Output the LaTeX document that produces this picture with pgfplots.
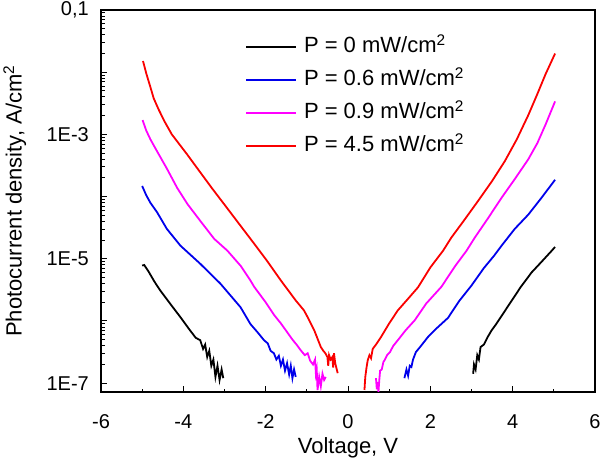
\documentclass[border=0pt]{standalone}
\usepackage{fontspec}
\setmainfont{Liberation Sans}
\usepackage{pgfplots}
\pgfplotsset{compat=1.18}
\definecolor{mag}{RGB}{255,0,255}
\definecolor{blu}{RGB}{0,0,235}
\definecolor{rd}{RGB}{250,0,0}
\begin{document}
\begin{tikzpicture}
\useasboundingbox (0,0) rectangle (600bp,460bp);
\begin{axis}[
  at={(101bp,68bp)}, anchor=south west,
  width=494bp, height=382bp, scale only axis,
  xmin=-6, xmax=6, ymode=log, ymin=7.2e-8, ymax=0.1,
  xtick={-6,-4,-2,0,2,4,6}, xticklabels={-6,-4,-2,0,2,4,6},
  minor xtick={-5,-3,-1,1,3,5},
  ytick={1e-7,1e-6,1e-5,1e-4,1e-3,1e-2,1e-1},
  yticklabels={1E-7,,1E-5,,1E-3,,{0,1}},
  xtick pos=bottom, ytick pos=left,
  tick align=inside,
  major tick length=6bp, minor tick length=3.5bp,
  axis line style={line width=1.1bp},
  every tick/.style={black, line width=0.9bp},
  tick label style={font=\fontsize{20bp}{24bp}\selectfont},
  xticklabel style={anchor=base, yshift=-36bp, inner sep=0pt},
  yticklabel style={anchor=east, inner sep=0pt, xshift=-12bp},
  xlabel={Voltage, V},
  ylabel={Photocurrent density, A/cm\textsuperscript{2}},
  label style={font=\fontsize{22bp}{26bp}\selectfont},
  xlabel style={at={(axis description cs:0.5,-0.162)}, anchor=base, inner sep=0pt},
  ylabel style={at={(axis description cs:-0.1605,0.5)}, anchor=base, inner sep=0pt},
  unbounded coords=jump,
  legend style={at={(axis description cs:0.2915,0.933)}, anchor=north west, draw=none, fill=none, inner sep=0pt,
    row sep=10bp, column sep=7bp, font=\fontsize{22bp}{26bp}\selectfont,
    nodes={inner ysep=0pt, inner xsep=0pt, text height=17bp, text depth=6bp}},
  legend cell align=left,
  legend image code/.code={\draw[#1, line width=1.8bp] (0bp,0bp) -- (50bp,0bp);},
]
\addplot[black, line width=1.8bp] coordinates {
(-5.00,7.762e-6) (-4.95,7.943e-6) (-4.85,6.310e-6) (-4.70,4.266e-6) (-4.56,3.090e-6)
(-4.30,1.820e-6) (-4.07,1.148e-6) (-3.85,7.244e-7) (-3.70,5.370e-7) (-3.59,4.898e-7)
(-3.52,3.548e-7) (-3.47,4.169e-7) (-3.42,2.630e-7) (-3.37,3.311e-7) (-3.32,1.905e-7)
(-3.27,2.399e-7) (-3.22,1.259e-7) (-3.17,1.905e-7) (-3.12,1.122e-7) (-3.07,1.660e-7)
(-3.03,1.202e-7)
(0,nan)
(3.04,1.413e-7) (3.06,1.995e-7) (3.10,1.660e-7) (3.14,2.818e-7) (3.18,2.399e-7)
(3.22,3.802e-7) (3.30,4.169e-7) (3.40,5.623e-7) (3.49,7.079e-7) (3.60,8.913e-7)
(3.75,1.259e-6) (3.98,2.138e-6) (4.20,3.548e-6) (4.46,6.026e-6) (4.70,8.913e-6)
(4.95,1.349e-5) (5.03,1.549e-5)
};
\addlegendentry{P = 0 mW/cm\textsuperscript{2}}
\addplot[blu, line width=1.8bp] coordinates {
(-5.00,1.479e-4) (-4.90,1.047e-4) (-4.80,7.943e-5) (-4.64,5.623e-5) (-4.40,3.020e-5)
(-4.07,1.622e-5) (-3.59,8.318e-6) (-3.10,3.981e-6) (-2.61,1.660e-6) (-2.37,8.913e-7)
(-2.20,6.607e-7) (-2.04,4.898e-7) (-1.95,4.365e-7) (-1.88,3.311e-7) (-1.80,3.020e-7)
(-1.74,2.399e-7) (-1.68,2.754e-7) (-1.63,1.905e-7) (-1.58,2.399e-7) (-1.53,1.585e-7)
(-1.48,2.089e-7) (-1.43,1.380e-7) (-1.39,1.905e-7) (-1.35,1.202e-7) (-1.31,1.660e-7)
(-1.27,1.259e-7)
(0,nan)
(1.37,1.202e-7) (1.42,1.660e-7) (1.46,1.318e-7) (1.50,1.905e-7) (1.54,1.820e-7)
(1.58,2.399e-7) (1.65,3.162e-7) (1.75,3.802e-7) (1.94,5.495e-7) (2.15,7.586e-7)
(2.43,1.122e-6) (2.70,2.089e-6) (3.00,3.715e-6) (3.30,7.079e-6) (3.55,1.122e-5)
(3.73,1.622e-5) (4.05,3.020e-5) (4.38,5.129e-5) (4.70,9.550e-5) (5.03,1.862e-4)
};
\addlegendentry{P = 0.6 mW/cm\textsuperscript{2}}
\addplot[mag, line width=1.8bp] coordinates {
(-4.99,1.698e-3) (-4.90,1.148e-3) (-4.80,8.318e-4) (-4.64,5.370e-4) (-4.40,2.818e-4)
(-4.15,1.380e-4) (-3.90,7.586e-5) (-3.59,4.074e-5) (-3.25,2.089e-5) (-2.93,1.349e-5)
(-2.60,7.586e-6) (-2.37,4.467e-6) (-2.28,3.548e-6) (-2.00,1.995e-6) (-1.80,1.259e-6)
(-1.63,9.120e-7) (-1.50,6.918e-7) (-1.35,5.012e-7) (-1.25,4.169e-7) (-1.15,3.388e-7)
(-1.05,2.818e-7) (-0.98,3.020e-7) (-0.92,2.291e-7) (-0.85,1.995e-7) (-0.80,2.399e-7)
(-0.78,1.413e-7) (-0.76,1.660e-7) (-0.74,7.762e-8) (-0.70,1.259e-7) (-0.66,8.913e-8)
(-0.62,1.413e-7) (-0.58,1.122e-7) (-0.54,1.259e-7)
(0,nan)
(0.68,1.202e-7) (0.70,7.943e-8) (0.72,1.047e-7) (0.74,7.244e-8) (0.76,1.122e-7)
(0.78,1.585e-7) (0.82,1.660e-7) (0.86,2.188e-7) (0.89,2.344e-7) (0.95,2.818e-7)
(1.02,3.162e-7) (1.10,3.981e-7) (1.21,4.898e-7) (1.40,7.079e-7) (1.62,1.023e-6)
(1.90,1.905e-6) (2.27,3.548e-6) (2.60,7.586e-6) (2.88,1.349e-5) (3.08,2.188e-5)
(3.40,4.467e-5) (3.73,9.550e-5) (4.05,1.905e-4) (4.38,3.981e-4) (4.60,7.244e-4)
(4.80,1.445e-3) (5.03,3.388e-3)
};
\addlegendentry{P = 0.9 mW/cm\textsuperscript{2}}
\addplot[rd, line width=1.8bp] coordinates {
(-4.98,1.514e-2) (-4.90,9.550e-3) (-4.80,5.754e-3) (-4.72,3.802e-3) (-4.60,2.512e-3)
(-4.45,1.585e-3) (-4.28,1.000e-3) (-3.91,4.786e-4) (-3.60,2.512e-4) (-3.30,1.349e-4)
(-3.00,7.413e-5) (-2.61,3.388e-5) (-2.30,1.820e-5) (-1.96,9.120e-6) (-1.63,4.467e-6)
(-1.27,2.138e-6) (-1.07,1.479e-6) (-0.98,1.148e-6) (-0.82,7.079e-7) (-0.66,3.802e-7)
(-0.60,3.311e-7) (-0.55,3.020e-7) (-0.50,2.630e-7) (-0.48,1.905e-7) (-0.46,2.818e-7)
(-0.42,2.399e-7) (-0.38,2.630e-7) (-0.36,1.778e-7) (-0.34,3.020e-7) (-0.31,2.089e-7)
(-0.28,1.738e-7) (-0.25,1.445e-7)
(0,nan)
(0.40,7.762e-8) (0.42,1.259e-7) (0.45,1.778e-7) (0.48,2.344e-7) (0.52,2.818e-7)
(0.56,2.512e-7) (0.60,3.548e-7) (0.68,4.169e-7) (0.80,5.495e-7) (1.00,9.120e-7)
(1.21,1.479e-6) (1.45,2.239e-6) (1.70,3.467e-6) (2.00,7.244e-6) (2.31,1.349e-5)
(2.51,2.188e-5) (2.80,3.981e-5) (3.16,8.511e-5) (3.50,1.778e-4) (3.81,3.715e-4)
(4.10,8.318e-4) (4.38,2.042e-3) (4.60,4.467e-3) (4.80,9.333e-3) (5.03,1.995e-2)
};
\addlegendentry{P = 4.5 mW/cm\textsuperscript{2}}
\end{axis}
\end{tikzpicture}
\end{document}
